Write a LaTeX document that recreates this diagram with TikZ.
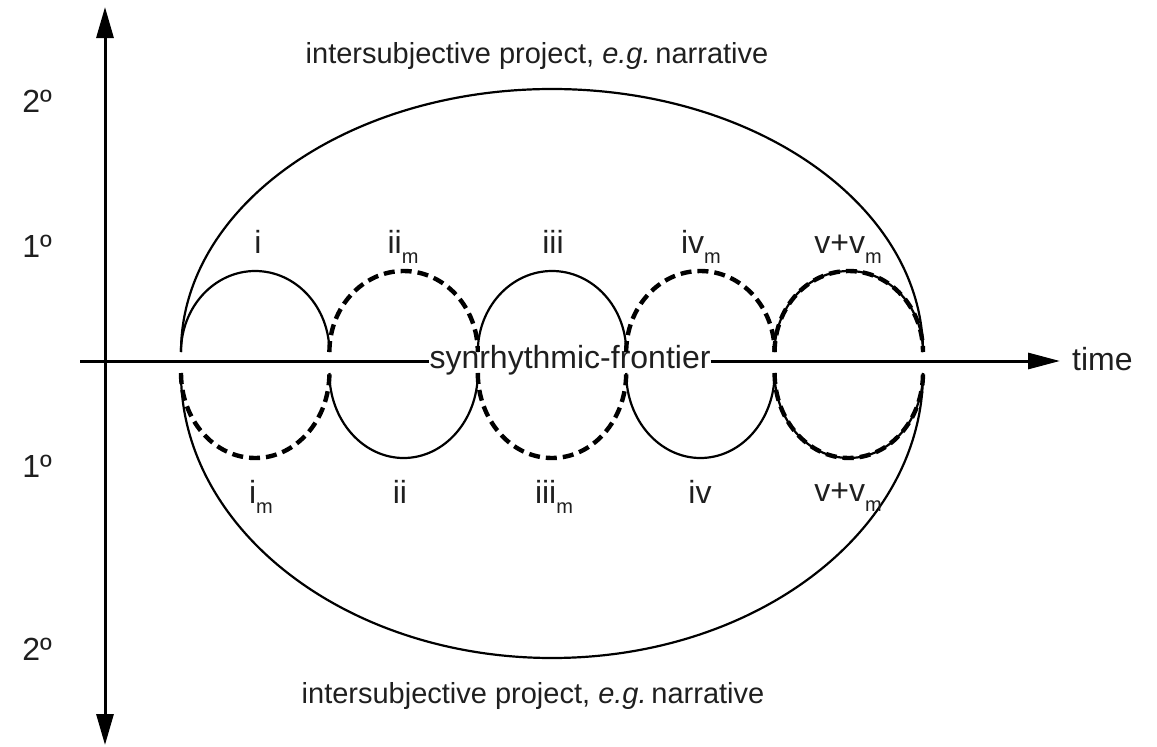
\documentclass[tikz,border=0pt]{standalone}
\usepackage{fontspec}
\setmainfont{Liberation Sans}
\usetikzlibrary{arrows.meta}
\newcommand\subm{\raisebox{-10pt}{\fontsize{20}{22}\selectfont m}}
\begin{document}
\begin{tikzpicture}[x=1pt,y=1pt,
  plainarc/.style={line width=2.2pt},
  dasharc/.style={line width=4.4pt, dash pattern=on 11pt off 6pt},
  axisline/.style={line width=3pt},
  lbl/.style={font=\fontsize{32}{38}\selectfont, inner sep=0pt, anchor=base, text=black!88},
  bigtext/.style={font=\fontsize{29}{35}\selectfont, inner sep=0pt, anchor=base, text=black!88},
]
\useasboundingbox (0,0) rectangle (1157,-747);
% axes
\coordinate (vtop) at (105,-7);
\coordinate (vbot) at (105,-745);
\draw[axisline,{Triangle[length=31pt,width=17pt]}-{Triangle[length=31pt,width=17pt]}] (vbot) -- (vtop);
\coordinate (hstart) at (80,-361);
\coordinate (hend) at (1060,-361);
\node[lbl] (frontier) at (570,-368) {synrhythmic-frontier};
\draw[axisline] (hstart) -- (frontier.west |- hstart);
\draw[axisline,-{Triangle[length=32pt,width=16pt]}] (frontier.east |- hstart) -- (hend);
\node[lbl,anchor=base west] (time) at (1072,-370) {time};
% big ellipse
\draw[plainarc] (181,-352) arc[start angle=180,end angle=0,x radius=371,y radius=263];
\draw[plainarc] (181,-373) arc[start angle=180,end angle=360,x radius=371,y radius=285];
% small arcs
\foreach \k/\st in {0/plainarc,1/dasharc,2/plainarc,3/dasharc,4/plainarc,4/dasharc}{
  \draw[\st] ({181+148.4*\k},-352) arc[start angle=180,end angle=0,x radius=74.2,y radius=81];
}
\foreach \k/\st in {0/dasharc,1/plainarc,2/dasharc,3/plainarc,4/plainarc,4/dasharc}{
  \draw[\st] ({181+148.4*\k},-373) arc[start angle=180,end angle=360,x radius=74.2,y radius=85];
}
% labels
\node[lbl] (t1) at (258,-253) {i};
\node[lbl] (t2) at (403,-253) {ii\subm};
\node[lbl] (t3) at (553,-253) {iii};
\node[lbl] (t4) at (701,-253) {iv\subm};
\node[lbl] (t5) at (848,-253) {v+v\subm};
\node[lbl] (b1) at (261,-503) {i\subm};
\node[lbl] (b2) at (400,-503) {ii};
\node[lbl] (b3) at (554,-503) {iii\subm};
\node[lbl] (b4) at (700,-503) {iv};
\node[lbl] (b5) at (848,-501) {v+v\subm};
\node[lbl] (l2a) at (37,-112) {2º};
\node[lbl] (l1a) at (37,-257) {1º};
\node[lbl] (l1b) at (37,-477) {1º};
\node[lbl] (l2b) at (37,-660) {2º};
\node[bigtext] (topt) at (537,-63) {intersubjective project, \textit{e.g.}\,narrative};
\node[bigtext] (bott) at (533,-703) {intersubjective project, \textit{e.g.}\,narrative};
\end{tikzpicture}
\end{document}
